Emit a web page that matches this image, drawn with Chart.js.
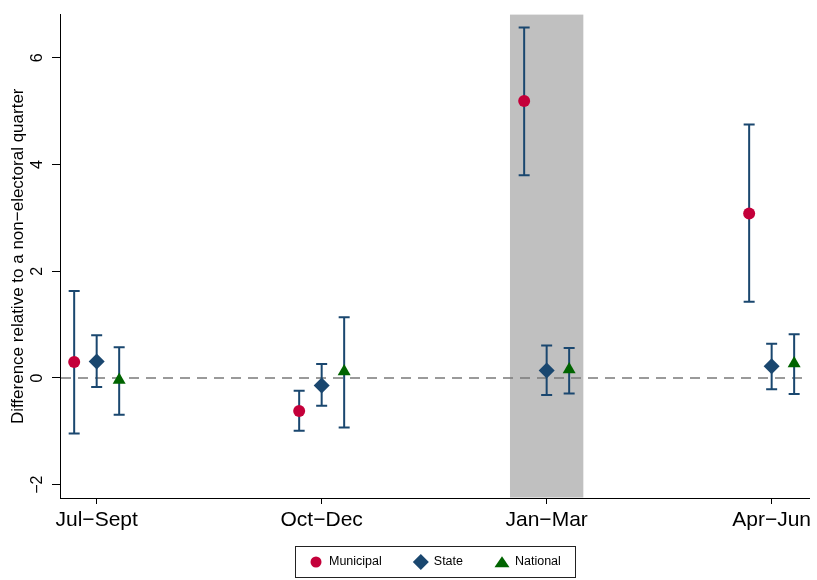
<!DOCTYPE html>
<html><head><meta charset="utf-8">
<script src="https://cdn.jsdelivr.net/npm/chart.js@4/dist/chart.umd.min.js"></script>
<style>html,body{margin:0;padding:0;background:#fff}</style>
</head><body>
<canvas id="c" width="817" height="580"></canvas>
<script>
// ---- data ----
const categories = ['Jul\u2212Sept', 'Oct\u2212Dec', 'Jan\u2212Mar', 'Apr\u2212Jun'];
const seriesNames = ['Municipal', 'State', 'National'];
const municipal   = [0.30, -0.62, 5.19, 3.08];
const municipalLo = [-1.04, -0.99, 3.80, 1.43];
const municipalHi = [1.63, -0.24, 6.57, 4.75];
const state       = [0.31, -0.14, 0.14, 0.22];
const stateLo     = [-0.17, -0.52, -0.32, -0.21];
const stateHi     = [0.80, 0.26, 0.61, 0.64];
const national    = [-0.04, 0.12, 0.16, 0.27];
const nationalLo  = [-0.69, -0.93, -0.29, -0.30];
const nationalHi  = [0.575, 1.14, 0.56, 0.82];
const yTicks = [-2, 0, 2, 4, 6];
const shadedCategory = 'Jan\u2212Mar';

// ---- styling ----
const FONT = '"Liberation Sans", Arial, Helvetica, sans-serif';
const colors = ['#C4003A', '#1A476F', '#006400'];
const pointStyles = ['circle', 'rectRot', 'triangle'];
const pointSizes = [6, 8, 7.5];
const offsets = [-0.1, 0, 0.1];
const barColor = '#1A476F';
const values = [municipal, state, national];
const lows = [municipalLo, stateLo, nationalLo];
const highs = [municipalHi, stateHi, nationalHi];

function toPoints(vals, k) { return vals.map((v, i) => ({ x: i + offsets[k], y: v })); }

const decorPlugin = {
  id: 'decor',
  beforeDatasetsDraw(chart) {
    const { ctx, chartArea: ca, scales: { x, y } } = chart;
    ctx.save();
    // shaded category band
    const si = categories.indexOf(shadedCategory);
    const xl = x.getPixelForValue(si - 0.163), xr = x.getPixelForValue(si + 0.163);
    ctx.fillStyle = '#C0C0C0';
    ctx.fillRect(xl, ca.top, xr - xl, ca.bottom - ca.top - 0.5);
    // zero reference line
    const y0 = y.getPixelForValue(0);
    ctx.strokeStyle = '#7a7a7a';
    ctx.lineWidth = 1.6;
    ctx.setLineDash([10, 7]);
    ctx.beginPath(); ctx.moveTo(ca.left + 1, y0); ctx.lineTo(ca.right, y0); ctx.stroke();
    ctx.setLineDash([]);
    // confidence intervals
    ctx.strokeStyle = barColor;
    ctx.lineWidth = 2;
    const cap = 5.5;
    values.forEach((vals, k) => {
      vals.forEach((v, i) => {
        const px = x.getPixelForValue(i + offsets[k]);
        const pl = y.getPixelForValue(lows[k][i]);
        const ph = y.getPixelForValue(highs[k][i]);
        ctx.beginPath();
        ctx.moveTo(px, pl); ctx.lineTo(px, ph);
        ctx.moveTo(px - cap, pl); ctx.lineTo(px + cap, pl);
        ctx.moveTo(px - cap, ph); ctx.lineTo(px + cap, ph);
        ctx.stroke();
      });
    });
    ctx.restore();
  },
  afterDraw(chart) {
    const { ctx, chartArea: ca } = chart;
    ctx.save();
    ctx.font = '12.5px ' + FONT;
    const marker = 14, gapText = 6, gapItem = 32, pad = 14;
    const widths = seriesNames.map(n => ctx.measureText(n).width);
    const total = pad * 2 + widths.reduce((s, w) => s + marker + gapText + w, 0) + gapItem * (seriesNames.length - 1);
    const cx = (ca.left + ca.right) / 2;
    const left = Math.round(cx - total / 2);
    const top = chart.height - 34, h = 31;
    ctx.strokeStyle = '#222';
    ctx.lineWidth = 1;
    ctx.strokeRect(left + 0.5, top + 0.5, Math.round(total), h);
    const cy = top + h / 2 + 0.5;
    let xx = left + pad;
    seriesNames.forEach((n, k) => {
      const mx = xx + marker / 2;
      ctx.fillStyle = colors[k];
      ctx.beginPath();
      if (pointStyles[k] === 'circle') {
        ctx.arc(mx, cy, 5.5, 0, Math.PI * 2);
      } else if (pointStyles[k] === 'rectRot') {
        ctx.moveTo(mx, cy - 8); ctx.lineTo(mx + 8, cy); ctx.lineTo(mx, cy + 8); ctx.lineTo(mx - 8, cy); ctx.closePath();
      } else {
        ctx.moveTo(mx, cy - 5.8); ctx.lineTo(mx + 7.5, cy + 5.2); ctx.lineTo(mx - 7.5, cy + 5.2); ctx.closePath();
      }
      ctx.fill();
      ctx.fillStyle = '#000';
      ctx.textBaseline = 'middle';
      ctx.textAlign = 'left';
      ctx.fillText(n, xx + marker + gapText, cy);
      xx += marker + gapText + widths[k] + gapItem;
    });
    ctx.restore();
  }
};

new Chart(document.getElementById('c'), {
  type: 'scatter',
  data: {
    datasets: seriesNames.map((n, k) => ({
      label: n,
      data: toPoints(values[k], k),
      pointStyle: pointStyles[k],
      pointRadius: pointSizes[k],
      pointHoverRadius: pointSizes[k],
      backgroundColor: colors[k],
      borderColor: colors[k],
      borderWidth: 0,
      showLine: false
    }))
  },
  options: {
    responsive: false,
    animation: false,
    devicePixelRatio: 1,
    layout: { padding: { top: 14, right: 7, left: 0, bottom: 34 } },
    plugins: { legend: { display: false }, tooltip: { enabled: false } },
    scales: {
      x: {
        type: 'linear',
        min: -0.163, max: 3.166,
        afterBuildTicks: s => { s.ticks = categories.map((c, i) => ({ value: i })); },
        afterFit: s => { s.height = 48; },
        ticks: {
          callback: v => categories[v] ?? '',
          font: { family: FONT, size: 21 },
          color: '#000',
          padding: 4,
          maxRotation: 0, minRotation: 0,
          autoSkip: false
        },
        grid: { display: true, drawOnChartArea: false, drawTicks: true, tickLength: 6, color: '#000', lineWidth: 1 },
        border: { display: true, color: '#000', width: 1 }
      },
      y: {
        min: -2.25, max: 6.81,
        afterBuildTicks: s => { s.ticks = yTicks.map(v => ({ value: v })); },
        afterFit: s => { s.width = 60; },
        ticks: {
          callback: v => (v < 0 ? '\u2212' : '') + Math.abs(v),
          font: { family: FONT, size: 16 },
          color: '#000',
          minRotation: 90, maxRotation: 90,
          crossAlign: 'center',
          padding: 5
        },
        title: {
          display: true,
          text: 'Difference relative to a non\u2212electoral quarter',
          font: { family: FONT, size: 17 },
          color: '#000',
          padding: { top: 8, bottom: 0 }
        },
        grid: { display: true, drawOnChartArea: false, drawTicks: true, tickLength: 8, color: '#000', lineWidth: 1 },
        border: { display: true, color: '#000', width: 1 }
      }
    }
  },
  plugins: [decorPlugin]
});
</script>
</body></html>
